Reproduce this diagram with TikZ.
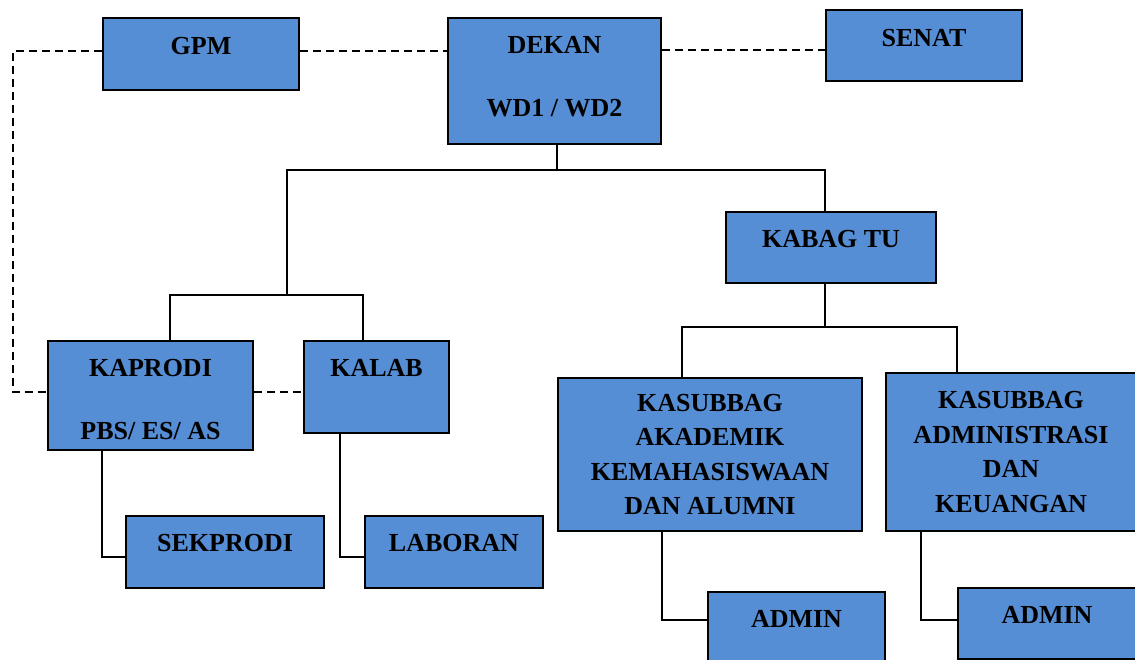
\documentclass[tikz,border=0pt]{standalone}
\usepackage{fontspec}
\setmainfont{Liberation Serif}
\definecolor{unitblue}{RGB}{85,142,213}
\newcommand\unitfont{\fontsize{26}{34.5}\selectfont\bfseries}
\begin{document}
\begin{tikzpicture}[x=1pt,y=-1pt,
  unit/.style={draw=black, line width=2pt, fill=unitblue, font=\unitfont,
    inner sep=0pt, anchor=north west, align=center},
  toptext/.style={text height=17.2pt, text depth=#1},
  link/.style={line width=1.5pt},
  dashlink/.style={line width=1.6pt, dash pattern=on 8pt off 5pt}]
\useasboundingbox (0,0) rectangle (1135,660);

%Boxes: top row
\node[unit, minimum width=196, minimum height=72, toptext=16pt] (gpm) at (102,17) {GPM};
\node[unit, minimum width=213, minimum height=126, text depth=8.5pt] (dekan) at (447,17) {DEKAN\\[28.5pt]WD1 / WD2};
\node[unit, minimum width=196, minimum height=71, toptext=15pt] (senat) at (825,9) {SENAT};
\node[unit, minimum width=210, minimum height=71, toptext=17pt] (kabag) at (725,211) {KABAG TU};

%Boxes: left branch
\node[unit, minimum width=205, minimum height=109, text height=88.5pt] (kaprodi) at (47,340) {KAPRODI\\[28.5pt]PBS/ ES/ AS};
\node[unit, minimum width=145, minimum height=92, toptext=38pt] (kalab) at (303,340) {KALAB};
\node[unit, minimum width=198, minimum height=72, toptext=18pt] (sekprodi) at (125,515) {SEKPRODI};
\node[unit, minimum width=178, minimum height=72, toptext=18pt] (laboran) at (364,515) {LABORAN};

%Boxes: right branch
\node[unit, minimum width=304, minimum height=153] (akademik) at (557,377) {KASUBBAG\\AKADEMIK\\KEMAHASISWAAN\\DAN ALUMNI};
\node[unit, minimum width=250, minimum height=158] (keuangan) at (885,372) {KASUBBAG\\ADMINISTRASI\\DAN\\KEUANGAN};
\node[unit, minimum width=177, minimum height=75, toptext=21pt] (adminak) at (707,591) {ADMIN};
\node[unit, minimum width=178, minimum height=71, toptext=17pt] (adminku) at (957,587) {ADMIN};

%Dashed lines
\draw[dashlink] (gpm.west |- 0,51) -- (13,51) |- (kaprodi.west |- 0,392);
\draw[dashlink] (gpm.east |- 0,51) -- (dekan.west |- 0,51);
\draw[dashlink] (dekan.east |- 0,50) -- (senat.west |- 0,50);
\draw[dashlink] (kaprodi.east |- 0,392) -- (kalab.west |- 0,392);

%Straight lines
\draw[link] (dekan.south -| 557,0) -- (557,170);
\draw[link] (kabag.north -| 825,0) |- (287,170) -- (287,295);
\draw[link] (kaprodi.north -| 170,0) |- (363,295) -- (kalab.north -| 363,0);
\draw[link] (kabag.south -| 825,0) -- (825,327);
\draw[link] (akademik.north -| 682,0) |- (957,327) -- (keuangan.north -| 957,0);
\draw[link] (kaprodi.south -| 102,0) |- (sekprodi.west |- 0,557);
\draw[link] (kalab.south -| 340,0) |- (laboran.west |- 0,557);
\draw[link] (akademik.south -| 662,0) |- (adminak.west |- 0,620);
\draw[link] (keuangan.south -| 921,0) |- (adminku.west |- 0,620);

\end{tikzpicture}
\end{document}
